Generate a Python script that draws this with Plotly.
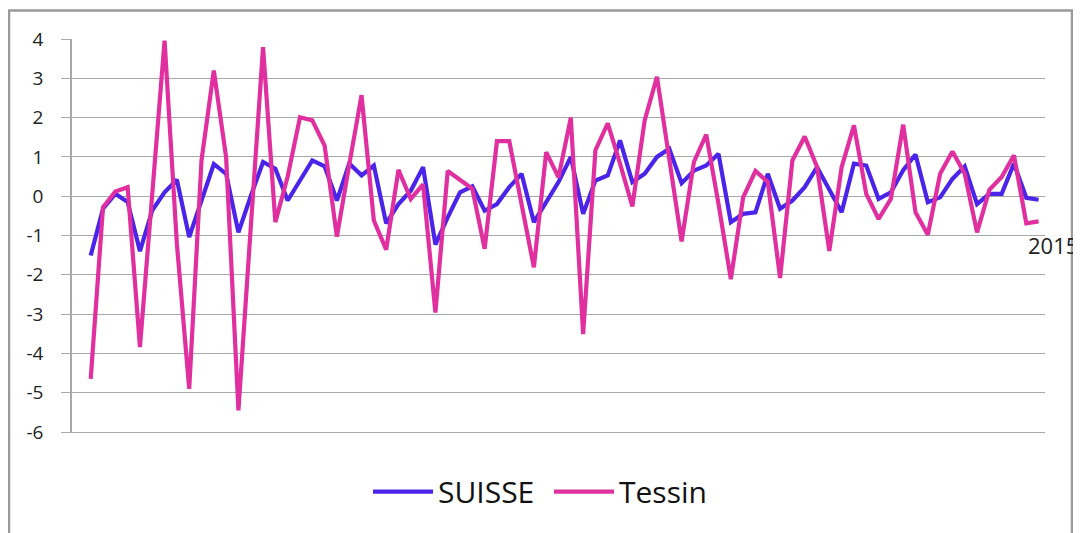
import plotly.graph_objects as go

# Quarterly variation (index positions along the category axis)
suisse = [-1.51, -0.32, 0.06, -0.15, -1.40, -0.36, 0.10, 0.42, -1.04, -0.10,
          0.82, 0.57, -0.92, 0.00, 0.87, 0.70, -0.11, 0.40, 0.91, 0.76,
          -0.11, 0.83, 0.53, 0.78, -0.69, -0.20, 0.14, 0.74, -1.23, -0.54,
          0.10, 0.25, -0.37, -0.20, 0.23, 0.57, -0.66, -0.15, 0.36, 1.00,
          -0.45, 0.40, 0.53, 1.42, 0.36, 0.57, 1.00, 1.21, 0.33, 0.65,
          0.78, 1.08, -0.66, -0.45, -0.41, 0.57, -0.32, -0.11, 0.23, 0.74,
          0.15, -0.41, 0.83, 0.78, -0.07, 0.10, 0.66, 1.06, -0.15, -0.03,
          0.44, 0.76, -0.20, 0.06, 0.06, 0.83, -0.04, -0.09]

tessin = [-4.65, -0.28, 0.12, 0.23, -3.84, 0.05, 3.96, -1.21, -4.90, 0.91,
          3.20, 0.99, -5.45, -0.80, 3.79, -0.66, 0.50, 2.01, 1.93, 1.29,
          -1.03, 0.80, 2.57, -0.62, -1.36, 0.67, -0.07, 0.30, -2.96, 0.64,
          0.40, 0.19, -1.34, 1.40, 1.40, -0.20, -1.81, 1.12, 0.48, 2.00,
          -3.51, 1.17, 1.85, 0.83, -0.26, 1.93, 3.04, 0.94, -1.15, 0.87,
          1.57, -0.20, -2.11, -0.03, 0.64, 0.36, -2.08, 0.91, 1.52, 0.75,
          -1.39, 0.74, 1.80, 0.06, -0.58, -0.07, 1.82, -0.41, -0.98, 0.57,
          1.14, 0.57, -0.92, 0.16, 0.49, 1.04, -0.69, -0.64]

periods = list(range(len(suisse)))
last_label = "2015"
y_ticks = [4, 3, 2, 1, 0, -1, -2, -3, -4, -5, -6]
y_tick_text = [str(v) for v in y_ticks]

BLUE = "#4a24e8"
PINK = "#e0309f"
GRID = "#a8a8a8"
FONT = "Open Sans"

# page body has an 8px margin: figure occupies 1073x525 starting at (8, 8)
W, H = 1073, 525
L, T = 64, 31
PW = 973          # plot width in px
PH = 393.3        # plot height in px
R = W - L - PW
B = H - T - PH

fig = go.Figure()
fig.add_trace(go.Scatter(x=periods, y=suisse, mode="lines", name="SUISSE",
                         line=dict(color=BLUE, width=4.2)))
fig.add_trace(go.Scatter(x=periods, y=tessin, mode="lines", name="Tessin",
                         line=dict(color=PINK, width=4.2)))

fig.add_annotation(x=periods[-1] - 1, y=-1.25, text=last_label, showarrow=False,
                   xanchor="left", yanchor="middle",
                   font=dict(family=FONT, size=22, color="#222222"))

# outer chart border (page px -> figure px -> paper coords)
bx0, bx1, by_top = 9 - 8 - L, 1072 - 8 - L, 10.5 - 8 - T
fig.add_shape(type="rect", xref="paper", yref="paper",
              x0=bx0 / PW, x1=bx1 / PW,
              y0=-0.5, y1=(PH - by_top) / PH,
              line=dict(color="#9a9a9a", width=2.5), layer="below")

fig.update_layout(
    width=W, height=H,
    margin=dict(l=L, r=R, t=T, b=B, pad=0),
    paper_bgcolor="white", plot_bgcolor="white",
    showlegend=True,
    legend=dict(orientation="h", x=(368 - 72) / PW, xanchor="left",
                y=(432.3 - 492) / PH, yanchor="middle",
                font=dict(family=FONT, size=30, color="#111111"),
                itemwidth=60, entrywidth=106, entrywidthmode="pixels",
                bgcolor="rgba(0,0,0,0)"),
    xaxis=dict(range=[-1.52, 77.52], showgrid=False, showticklabels=False,
               zeroline=False, showline=True, linecolor=GRID, linewidth=1,
               ticks=""),
    yaxis=dict(range=[-6, 4], tickvals=y_ticks, ticktext=y_tick_text,
               showgrid=True, gridcolor=GRID,
               gridwidth=1, zeroline=False, showline=True, linecolor=GRID,
               linewidth=1.5, ticks="outside", ticklen=9, tickcolor=GRID,
               tickfont=dict(family=FONT, size=19, color="#222222"),
               ticklabelstandoff=14),
)

fig.write_html("out.html")
